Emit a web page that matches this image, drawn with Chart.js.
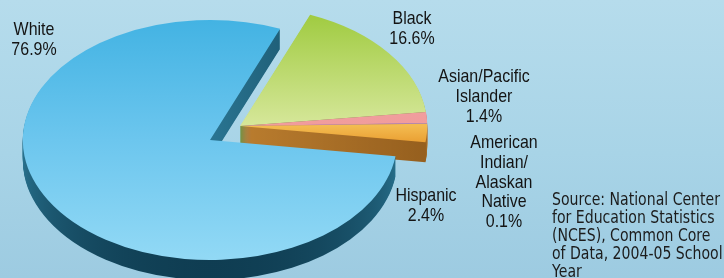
<!DOCTYPE html>
<html>
<head>
<meta charset="utf-8">
<script src="https://cdn.jsdelivr.net/npm/chart.js@4/dist/chart.umd.min.js"></script>
<style>
  html, body { margin: 0; padding: 0; overflow: hidden; }
  body { width: 724px; height: 278px; background: linear-gradient(180deg, #b6dcec 0%, #a8d4e7 55%, #9dcbe1 100%); }
  #chart { display: block; }
</style>
</head>
<body>
<canvas id="chart" width="724" height="278"></canvas>
<script>
// data (percent of public school students, 2004-05)
const categories = ['Black', 'Asian/Pacific Islander', 'American Indian/Alaskan Native', 'Hispanic', 'White'];
const shares = [16.6, 1.4, 0.1, 2.4, 76.9];
const labelLines = [['Black'], ['Asian/Pacific', 'Islander'], ['American', 'Indian/', 'Alaskan', 'Native'], ['Hispanic'], ['White']];
const sourceLines = ['Source: National Center', 'for Education Statistics', '(NCES), Common Core', 'of Data, 2004-05 School', 'Year'];

// look of the tilted pie
const faceStops = [
  ['#9cc93a', '#d6e79a'],
  ['#f5aaa9', '#f09c9c'],
  ['#a585c8', '#a585c8'],
  ['#f3bb50', '#e38c1e'],
  ['#43b3e3', '#6cc6ee', '#92d9f5']
];
const sideStops = [
  ['#5e8a35', '#6b9440'],
  ['#c27a7a', '#c27a7a'],
  ['#6f5590', '#6f5590'],
  ['#b97c2e', '#7a4912'],
  ['#1f5f78', '#2a7592', '#0f3d52']
];
const depth = 20;
const stretchX = 1.56;
const whiteShift = { x: -14, y: 7 };
const groupShift = { x: 16, y: -7 };

// label anchors: centre x, first baseline
const labelSpots = [
  { x: 412, y: 24 },
  { x: 484, y: 82 },
  { x: 504, y: 148 },
  { x: 426, y: 201 },
  { x: 34, y: 35 }
];

function vGrad(ctx, y0, y1, stops) {
  const g = ctx.createLinearGradient(0, y0, 0, y1);
  stops.forEach((c, i) => g.addColorStop(i / (stops.length - 1), c));
  return g;
}

function drawSlice(ctx, arc, i, dy, stops) {
  const shift = i === 4 ? whiteShift : groupShift;
  const cx = arc.x, cy = arc.y, r = arc.outerRadius;
  ctx.save();
  ctx.translate(shift.x, shift.y + dy);
  ctx.translate(cx, 0);
  ctx.scale(stretchX, 1);
  ctx.translate(-cx, 0);
  let fill;
  if (i === 3) fill = vGrad(ctx, cy, cy + 28, stops);
  else if (i === 4) fill = vGrad(ctx, cy - r, cy + r, stops);
  else fill = vGrad(ctx, cy - r, cy, stops);
  const saved = arc.options;
  arc.options = Object.assign({}, saved, { backgroundColor: fill, borderWidth: 0, offset: 0 });
  arc.draw(ctx);
  arc.options = saved;
  ctx.restore();
}

const tiltedPie = {
  id: 'tiltedPie',
  beforeDatasetsDraw(chart) {
    const ctx = chart.ctx;
    const arcs = chart.getDatasetMeta(0).data;
    const order = [[0, 1, 2, 3], [4]];
    order.forEach(group => {
      for (let d = depth; d >= 1; d--) {
        group.forEach(i => drawSlice(ctx, arcs[i], i, d, sideStops[i]));
      }
      group.forEach(i => drawSlice(ctx, arcs[i], i, 0, faceStops[i]));
    });
    return false;
  }
};

const textLabels = {
  id: 'textLabels',
  afterDraw(chart) {
    const ctx = chart.ctx;
    ctx.save();
    ctx.fillStyle = '#141414';
    ctx.textBaseline = 'alphabetic';
    ctx.textAlign = 'center';
    ctx.font = '19px "Liberation Sans", Arial, sans-serif';
    labelSpots.forEach((spot, i) => {
      const lines = labelLines[i].concat([shares[i].toFixed(1) + '%']);
      lines.forEach((t, k) => {
        ctx.save();
        ctx.translate(spot.x, spot.y + k * 19.8);
        ctx.scale(0.84, 1);
        ctx.fillText(t, 0, 0);
        ctx.restore();
      });
    });
    // source note
    ctx.textAlign = 'left';
    ctx.fillStyle = '#1c1c1c';
    ctx.font = '17px "DejaVu Sans", sans-serif';
    const sx = 168 / ctx.measureText(sourceLines[0]).width;
    sourceLines.forEach((t, k) => {
      ctx.save();
      ctx.translate(552, 205 + k * 18);
      ctx.scale(sx, 1);
      ctx.fillText(t, 0, 0);
      ctx.restore();
    });
    ctx.restore();
  }
};

new Chart(document.getElementById('chart').getContext('2d'), {
  type: 'pie',
  data: {
    labels: categories,
    datasets: [{
      data: shares,
      backgroundColor: faceStops.map(s => s[0]),
      borderWidth: 0,
      clip: false
    }]
  },
  options: {
    responsive: false,
    animation: false,
    rotation: 22,
    radius: 120,
    layout: { padding: { left: 0, right: 276, top: 0, bottom: 12 } },
    plugins: {
      legend: { display: false },
      tooltip: { enabled: false }
    }
  },
  plugins: [tiltedPie, textLabels]
});
</script>
</body>
</html>
